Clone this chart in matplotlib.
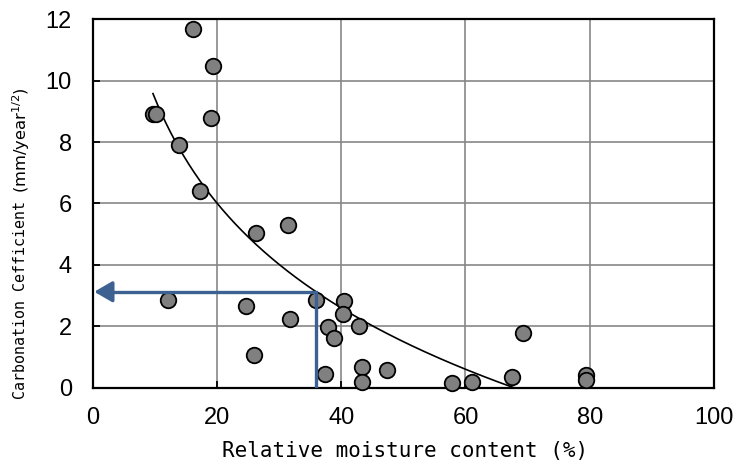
import numpy as np
import matplotlib
matplotlib.use("Agg")
import matplotlib.pyplot as plt

# ---- data ----
moisture = [16.1, 19.3, 9.7, 10.2, 19.1, 13.9, 17.3, 26.3, 31.5, 12.2, 24.7, 36.0,
            40.4, 40.3, 31.8, 37.9, 42.8, 38.8, 25.9, 37.4, 43.3, 47.3, 43.4, 57.9,
            61.0, 67.5, 69.2, 79.4, 79.4]
carb_coef = [11.67, 10.49, 8.92, 8.92, 8.77, 7.89, 6.41, 5.02, 5.29, 2.85, 2.65, 2.85,
             2.83, 2.38, 2.24, 1.98, 2.00, 1.60, 1.06, 0.43, 0.68, 0.57, 0.19, 0.14,
             0.18, 0.34, 1.77, 0.41, 0.24]
# logarithmic trendline y = slope*ln(x) + intercept
trend_slope = -4.93
trend_intercept = 20.78
# reading guide (arrow)
guide_x = 36.0
guide_y = 3.12

x_ticks = [0, 20, 40, 60, 80, 100]
y_ticks = [0, 2, 4, 6, 8, 10, 12]

W, H = 736, 468
fig = plt.figure(figsize=(W / 100, H / 100), dpi=100)
L, R, T, B = 92.7, 714.0, 19.3, 387.5
ax = fig.add_axes([L / W, 1 - B / H, (R - L) / W, (B - T) / H])

ax.set_xlim(0, 100)
ax.set_ylim(0, 12)
ax.set_xticks(x_ticks)
ax.set_yticks(y_ticks)
ax.grid(True, color="#878787", linewidth=1.2, zorder=0)
ax.set_axisbelow(True)
for s in ax.spines.values():
    s.set_color("black")
    s.set_linewidth(1.6)

tick_font = ["Liberation Sans Narrow", "Liberation Sans", "DejaVu Sans"]
ax.tick_params(axis="both", direction="in", length=5, width=1.3, color="black",
               labelsize=17)
ax.tick_params(axis="x", pad=14)
ax.tick_params(axis="y", pad=15)
for lab in ax.get_xticklabels() + ax.get_yticklabels():
    lab.set_family(tick_font)

# trendline
xs = np.linspace(min(moisture), max(moisture), 400)
ax.plot(xs, trend_slope * np.log(xs) + trend_intercept, color="black",
        linewidth=1.2, zorder=2)

# scatter
ax.scatter(moisture, carb_coef, s=125, facecolor="#808080", edgecolor="black",
           linewidth=1.3, zorder=3, clip_on=False)

# guide arrow
blue = "#3D6190"
ax.plot([guide_x, guide_x, 2.0], [0, guide_y, guide_y], color=blue,
        linewidth=2.4, solid_joinstyle="miter", zorder=4)
ax.annotate("", xy=(0.25, guide_y), xytext=(3.0, guide_y),
            arrowprops=dict(arrowstyle="-|>,head_length=0.55,head_width=0.32",
                            color=blue, linewidth=2.4, mutation_scale=20,
                            shrinkA=0, shrinkB=0),
            zorder=5)

# labels
fig.text(405 / W, 1 - 451 / H, "Relative moisture content (%)", family="DejaVu Sans Mono",
         fontsize=15, ha="center", va="center")
fig.text(21 / W, 1 - 399 / H, "Carbonation Cefficient", family="DejaVu Sans Mono",
         fontsize=10.8, rotation=90, ha="center", va="bottom")
fig.text(21 / W, 1 - 193 / H, r"(mm/year$^{1/2}$)", family="DejaVu Sans",
         fontsize=11.8, rotation=90, ha="center", va="bottom")

fig.savefig("out.png", dpi=100)
